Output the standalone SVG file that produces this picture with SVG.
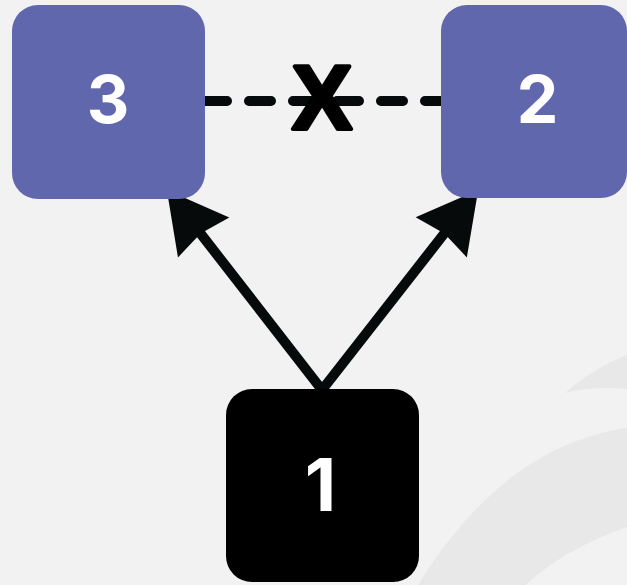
<svg xmlns="http://www.w3.org/2000/svg" width="627" height="585" viewBox="0 0 627 585">
  <defs>
    <style>
      .bg { fill: #f2f2f2; }
      .mark { fill: #e8e8e8; }
      .node-purple { fill: #6167ad; }
      .node-black { fill: #000000; }
      .label { font-family: Inter, "Liberation Sans", sans-serif; font-weight: 700; font-size: 66px; fill: #ffffff; text-anchor: middle; }
      .label-big { font-size: 73px; }
      .arrow { stroke: #060a0a; stroke-width: 10; stroke-linecap: round; fill: none; }
      .dashed { stroke: #060a0a; stroke-width: 10; stroke-linecap: round; stroke-dasharray: 22 22; fill: none; }
      .cross { font-family: "Liberation Sans", sans-serif; font-weight: 700; font-size: 90px; fill: #000000; stroke: #000000; stroke-width: 4; stroke-linejoin: round; text-anchor: middle; }
    </style>
    <marker id="head" markerUnits="userSpaceOnUse" orient="auto" refX="0" refY="0" markerWidth="100" markerHeight="100" viewBox="-20 -40 80 80" overflow="visible">
      <path d="M40,0 L-8,-26 L-4,0 L-8,26 Z" fill="#060a0a"/>
    </marker>
  </defs>

  <!-- background -->
  <rect class="bg" x="0" y="0" width="627" height="585"/>

  <!-- faint background swirl -->
  <g id="backdrop">
    <path class="mark" d="M418,585 C470,500 540,440 627,428 L627,527 C590,540 552,560 526,585 Z"/>
    <path class="mark" d="M565,393 C585,376 605,363 627,355 L627,389 C606,387 585,388 565,393 Z"/>
  </g>

  <!-- connectors -->
  <g id="connectors">
    <line class="dashed" x1="205" y1="101" x2="442" y2="101"/>
    <text class="cross" x="322" y="129">X</text>
    <line class="arrow" x1="322" y1="390" x2="197.5" y2="229.6" marker-end="url(#head)"/>
    <line class="arrow" x1="322" y1="390" x2="447.4" y2="229.5" marker-end="url(#head)"/>
  </g>

  <g id="node-3">
    <rect class="node-purple" x="12" y="5" width="193" height="194" rx="26"/>
    <text class="label" x="108" y="123">3</text>
  </g>

  <g id="node-2">
    <rect class="node-purple" x="441" y="5" width="186" height="193" rx="26"/>
    <text class="label" x="537.5" y="123">2</text>
  </g>

  <g id="node-1">
    <rect class="node-black" x="226" y="389" width="193" height="193" rx="26"/>
    <text class="label label-big" x="320.5" y="511">1</text>
  </g>
</svg>
